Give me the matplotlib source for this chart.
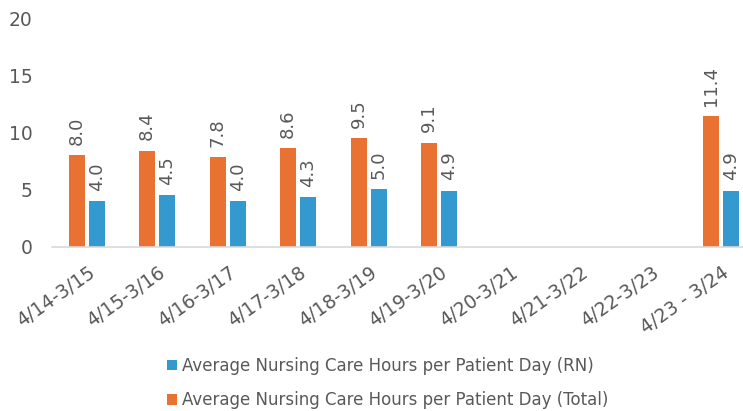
import numpy as np
import matplotlib.pyplot as plt

plt.rcParams['font.family'] = ['DejaVu Sans']

periods = ['4/14-3/15', '4/15-3/16', '4/16-3/17', '4/17-3/18', '4/18-3/19',
           '4/19-3/20', '4/20-3/21', '4/21-3/22', '4/22-3/23', '4/23 - 3/24']
rn = [4.0, 4.5, 4.0, 4.3, 5.0, 4.9, np.nan, np.nan, np.nan, 4.9]
total = [8.0, 8.4, 7.8, 8.6, 9.5, 9.1, np.nan, np.nan, np.nan, 11.4]

orange = '#E97132'
blue = '#3399CF'
grey = '#595959'

fig = plt.figure(figsize=(7.43, 4.11), dpi=100)
ax = fig.add_axes([0.07, 0.40, 0.93, 0.556])

x = np.arange(len(periods))
w = 0.23
b_tot = ax.bar(x - 0.15, total, w, color=orange, label='Average Nursing Care Hours per Patient Day (Total)')
b_rn = ax.bar(x + 0.135, rn, w, color=blue, label='Average Nursing Care Hours per Patient Day (RN)')

# value labels, rotated like the original
for bars, vals in [(b_tot, total), (b_rn, rn)]:
    for bar, v in zip(bars, vals):
        if np.isnan(v):
            continue
        ax.text(bar.get_x() + bar.get_width() / 2, v + 0.9, f'{v:.1f}',
                rotation=90, ha='center', va='bottom', fontsize=13, color=grey)

ax.set_ylim(0, 20)
ax.set_xlim(-0.5, 9.3)
ax.set_yticks([0, 5, 10, 15, 20])
ax.set_xticks(x)
ax.set_xticklabels(periods, rotation=35, ha='right', rotation_mode='anchor', fontsize=13.5, color=grey)
ax.tick_params(axis='y', length=0, labelsize=13.5, labelcolor=grey, pad=14)
ax.tick_params(axis='x', length=0, pad=12)
for s in ['top', 'right', 'left']:
    ax.spines[s].set_visible(False)
ax.spines['bottom'].set_color('#D9D9D9')
ax.spines['bottom'].set_linewidth(1.2)

h, l = ax.get_legend_handles_labels()
fig.legend([h[1], h[0]], [l[1], l[0]], loc='center', bbox_to_anchor=(0.522, 0.068),
           ncol=1, frameon=False, fontsize=12, labelcolor=grey,
           handlelength=0.6, handleheight=0.6, handletextpad=0.3, labelspacing=1.0)

fig.savefig('out.png', dpi=100)
